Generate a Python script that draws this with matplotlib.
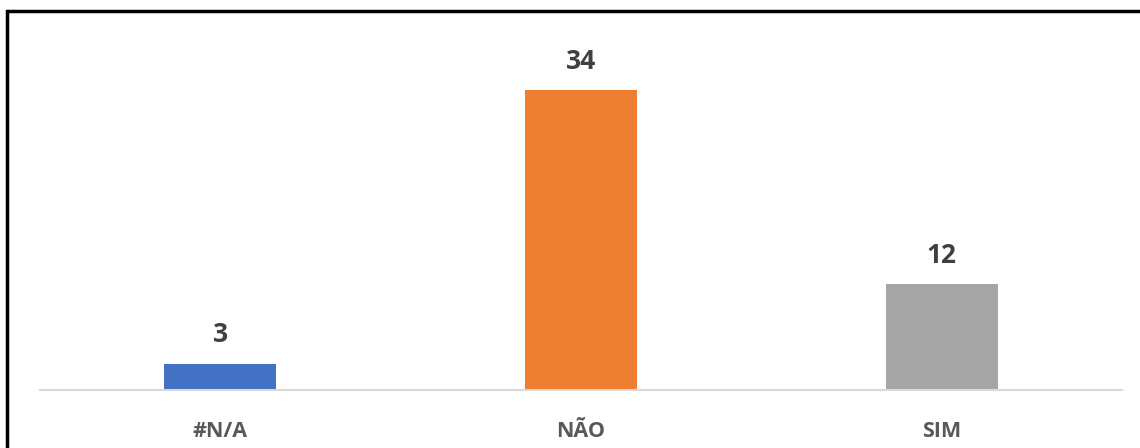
import matplotlib
matplotlib.use("Agg")
import matplotlib.pyplot as plt
from matplotlib.patches import Rectangle

categories = ["#N/A", "NÃO", "SIM"]
values = [3, 34, 12]
colors = ["#4472C4", "#ED7D31", "#A5A5A5"]

plt.rcParams["font.family"] = ["Open Sans", "DejaVu Sans"]

fig = plt.figure(figsize=(11.4, 4.48), dpi=100)
ax = fig.add_axes([40 / 1140, 1 - 390 / 448, 1082 / 1140, 335 / 448])

x = range(len(categories))
bars = ax.bar(x, values, width=0.31, color=colors, zorder=2)
for b, v in zip(bars, values):
    ax.annotate(str(v), (b.get_x() + b.get_width() / 2, v), xytext=(0, 11),
                textcoords="offset points", ha="center", va="bottom",
                fontsize=19, fontweight="bold", color="#404040")

ax.set_xlim(-0.5, 2.5)
ax.set_ylim(0, 38)
ax.set_xticks(list(x))
ax.set_xticklabels(categories, fontsize=15.5, fontweight="bold", color="#595959")
ax.tick_params(axis="x", length=0, pad=22)
ax.set_yticks([])
for s in ["top", "right", "left"]:
    ax.spines[s].set_visible(False)
ax.spines["bottom"].set_color("#D9D9D9")
ax.spines["bottom"].set_linewidth(1.5)

# frame of the original screenshot (top and left edges only visible)
fig.patches.append(Rectangle((7 / 1140, -0.2), 1.2, 1 - 11 / 448 + 0.2,
                             transform=fig.transFigure, fill=False,
                             edgecolor="black", linewidth=2.5))

fig.savefig("out.png", dpi=100)
